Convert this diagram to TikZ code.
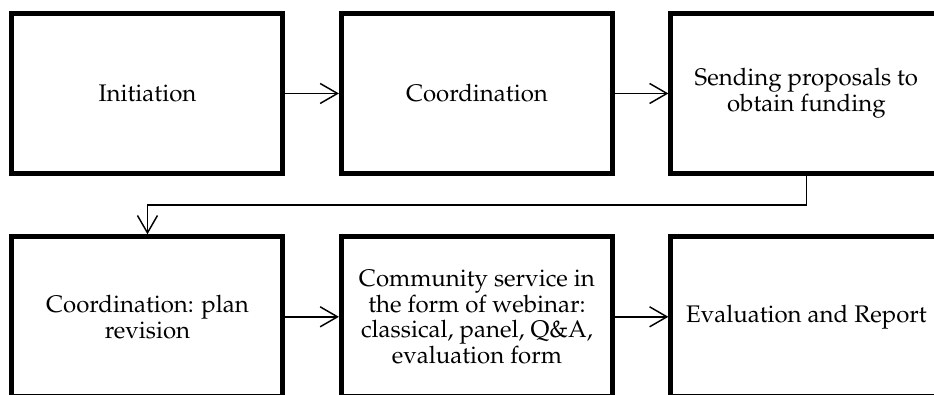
\documentclass[tikz,border=0pt]{standalone}
\usepackage[T1]{fontenc}
\usepackage{mathpazo}
\usetikzlibrary{positioning,arrows.meta}

\begin{document}
\begin{tikzpicture}[
  node distance=43.75pt and 40.1pt,
  box/.style={draw, line width=3.75pt, align=center, minimum width=203.25pt, minimum height=120pt, font=\fontsize{18}{19.2}\selectfont},
  arrow/.style={-{Straight Barb[length=13pt,width=15pt]}, line width=1.1pt}
]
\clip (-110.6pt,-225.4pt) rectangle (589.9pt,70.1pt);
\node[box] (init) {Initiation};
\node[box, right=of init] (coord) {Coordination};
\node[box, right=of coord] (fund) {Sending proposals to\\ obtain funding};
\node[box, below=of init] (rev) {Coordination: plan\\ revision};
\node[box, right=of rev] (webinar) {Community service in\\ the form of webinar:\\ classical, panel, Q\&A,\\ evaluation form};
\node[box, right=of webinar] (report) {Evaluation and Report};

\draw[arrow] (init) -- (coord);
\draw[arrow] (coord) -- (fund);
\draw[arrow] (fund.south) -- ++(0,-21.75pt) -| (rev.north);
\draw[arrow] (rev) -- (webinar);
\draw[arrow] (webinar) -- (report);
\end{tikzpicture}
\end{document}
